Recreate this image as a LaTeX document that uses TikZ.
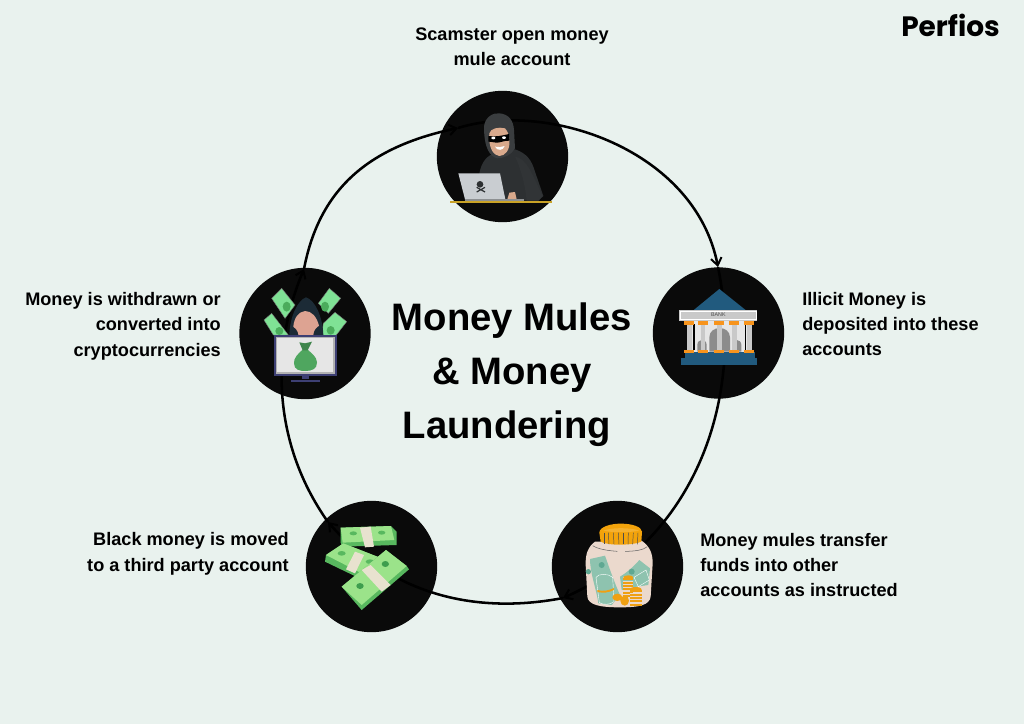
\documentclass[tikz,border=0pt]{standalone}
\usepackage{fontspec}
\setmainfont{Liberation Sans}
\newfontfamily\logofont{Poppins}
\usetikzlibrary{arrows.meta}
\definecolor{bgc}{HTML}{E9F2EE}
\definecolor{disc}{HTML}{0A0A0A}
\definecolor{hood}{HTML}{3A3D3F}
\definecolor{hoodie}{HTML}{2D3032}
\definecolor{skin}{HTML}{D9A98C}
\definecolor{lapgrey}{HTML}{C9CDD1}
\definecolor{gold}{HTML}{C9A227}
\definecolor{bankblue}{HTML}{215A7E}
\definecolor{bankorange}{HTML}{F7941D}
\definecolor{bankgrey}{HTML}{C9C9C9}
\definecolor{banklight}{HTML}{E6E6E6}
\definecolor{bankdoor}{HTML}{8C8C8C}
\definecolor{jarbody}{HTML}{EBD9CD}
\definecolor{jarlid}{HTML}{F3A30B}
\definecolor{jarteal}{HTML}{8EC3AF}
\definecolor{jardark}{HTML}{5FA892}
\definecolor{coin}{HTML}{EFA013}
\definecolor{billlight}{HTML}{9BE38A}
\definecolor{billmid}{HTML}{58B85F}
\definecolor{billdark}{HTML}{3E9E4E}
\definecolor{band}{HTML}{E8E2CF}
\definecolor{flatbill}{HTML}{7FE295}
\definecolor{hoodnavy}{HTML}{1C2B36}
\definecolor{facepink}{HTML}{DDA392}
\definecolor{monframe}{HTML}{3D3F73}
\definecolor{bag}{HTML}{4FA65F}
\tikzset{
  disk/.style={circle,fill=disc,draw=none,minimum size=98.5pt,inner sep=0pt},
  lbl/.style={font=\bfseries\fontsize{13.6}{19.1}\selectfont,inner sep=0pt},
  ttl/.style={font=\bfseries\fontsize{28.7}{40.3}\selectfont,align=center,inner sep=0pt},
  flow/.style={line width=1.9pt,black,-{Straight Barb[length=5.5pt,width=8pt,line width=1.5pt]}},
  crop/.style={x=.25pt,y=-.25pt},
  flat/.style={fill=flatbill,draw=black!55,line width=.3pt}
}
\begin{document}
\begin{tikzpicture}[x=.75pt,y=-.75pt]
\useasboundingbox (0,0) rectangle (1024,724);
\fill[bgc] (0,0) rectangle (1024,724);

\node[disk] (scam) at (502.5,156.5) {};
\node[disk] (bank) at (718.5,333) {};
\node[disk] (jar) at (617.5,566.5) {};
\node[disk] (cash) at (371.5,566.5) {};
\node[disk] (pc) at (305,333.5) {};

\coordinate (t1) at (458,128);
\coordinate (t2) at (718,267);
\coordinate (t3) at (563,598);
\coordinate (t4) at (328,522);
\coordinate (t5) at (304,269);

\draw[flow] (t1) .. controls +(90,-28) and +(-23,-117) .. (t2);
\draw[flow] (t2) .. controls +(27,133) and +(132,-58) .. (t3);
\draw[flow] (t3) .. controls +(-73,14) and +(72,82) .. (t4);
\draw[flow] (t4) .. controls +(-58,-82) and +(-32,76) .. (t5);
\draw[flow] (t5) .. controls +(16,-84) and +(-85,18) .. (t1);

% hacker
\begin{scope}[shift={(420,90)},crop]
\fill[hoodie] (178,250) .. controls (185,215) and (200,195) .. (235,185) -- (285,178) .. controls (320,190) and (335,210) .. (345,245) -- (370,318) -- (355,332) -- (200,332) -- cycle;
\fill[hood!85!black] (285,200) .. controls (320,205) and (335,250) .. (368,318) -- (355,332) -- (320,332) .. controls (315,280) and (300,230) .. (285,200) -- cycle;
\fill[hood] (192,110) .. controls (195,80) and (220,68) .. (238,70) .. controls (265,72) and (280,90) .. (282,120) -- (285,175) .. controls (275,195) and (250,205) .. (232,205) .. controls (210,200) and (192,175) .. (192,110) -- cycle;
\fill[skin] (208,130) .. controls (212,115) and (235,110) .. (255,115) .. controls (265,125) and (268,140) .. (268,155) .. controls (270,180) and (255,198) .. (238,198) .. controls (220,196) and (205,175) .. (208,130) -- cycle;
\fill[black] (205,138) .. controls (225,142) and (250,136) .. (267,132) -- (268,152) .. controls (250,152) and (240,158) .. (232,158) .. controls (225,158) and (212,155) .. (205,155) -- cycle;
\fill[white] (220,144) ellipse (6 and 4);
\fill[white] (252,143) ellipse (6 and 4);
\fill[white] (225,170) .. controls (235,172) and (245,172) .. (254,168) .. controls (250,182) and (232,184) .. (225,170) -- cycle;
\fill[skin] (262,328) -- (268,308) -- (285,306) -- (290,328) -- cycle;
\fill[lapgrey] (115,250) -- (240,250) -- (256,328) -- (135,328) -- cycle;
\fill[hoodie] (180,283) ellipse (10 and 10);
\draw[hoodie,line width=.9pt] (170,292) -- (195,306) (195,292) -- (170,306);
\fill[lapgrey!70!black] (135,327) rectangle (312,333);
\fill[gold] (90,333) rectangle (395,338);
\end{scope}

% bank
\begin{scope}[shift={(640,250)},crop]
\fill[bankblue] (238,117) -- (318,181) -- (160,181) -- cycle;
\fill[banklight] (140,212) rectangle (335,305);
\fill[bankdoor] (208,305) -- (208,262) .. controls (208,225) and (270,225) .. (270,262) -- (270,305) -- cycle;
\fill[bankdoor] (172,305) -- (172,285) .. controls (172,265) and (200,265) .. (200,285) -- (200,305) -- cycle;
\fill[bankdoor] (276,305) -- (276,285) .. controls (276,265) and (304,265) .. (304,285) -- (304,305) -- cycle;
\fill[black] (160,222) rectangle (164,300);
\fill[black] (315,222) rectangle (319,300);
\foreach \c in {148,189,238,283,328}{
  \fill[bankgrey] (\c-7,222) rectangle (\c+7,300);
}
\fill[bankblue] (135,305) rectangle (345,325);
\fill[bankblue] (122,325) rectangle (352,346);
\foreach \c in {148,189,238,283,328}{
  \fill[bankorange] (\c-15,214) rectangle (\c+15,224);
  \fill[bankorange] (\c-15,300) rectangle (\c+15,310);
}
\fill[bankgrey] (118,181) rectangle (352,212);
\draw[white,line width=.4pt] (122,185) rectangle (348,208);
\node[inner sep=0pt,text=black!70,font=\fontsize{4}{4}\selectfont] (banktxt) at (235,195) {BANK};
\end{scope}

% jar
\begin{scope}[shift={(540,490)},crop]
\fill[jarbody] (165,155) .. controls (145,170) and (136,190) .. (137,225) -- (142,320) .. controls (145,345) and (180,352) .. (240,352) .. controls (300,352) and (328,345) .. (332,320) -- (338,220) .. controls (338,190) and (330,170) .. (305,152) -- cycle;
\draw[black!60,line width=.4pt] (158,167) .. controls (175,178) and (205,182) .. (232,184);
\draw[black!60,line width=.4pt] (255,184) .. controls (285,184) and (310,180) .. (322,170);
\fill[jarteal] (150,207) -- (195,197) .. controls (205,225) and (220,270) .. (240,315) -- (215,345) -- (175,340) .. controls (170,300) and (150,250) .. (150,207) -- cycle;
\fill[jardark] (145,245) circle (8);
\fill[jardark] (185,225) circle (9);
\fill[jarteal] (240,260) .. controls (265,245) and (285,225) .. (298,210) -- (330,235) -- (325,285) -- (290,290) -- (245,300) -- cycle;
\fill[jardark] (275,245) circle (9);
\draw[white,fill=jarteal,line width=.3pt] (168,262) .. controls (175,250) and (205,250) .. (218,262) -- (222,335) .. controls (210,345) and (190,345) .. (178,338) -- cycle;
\fill[coin] (172,300) .. controls (190,305) and (205,302) .. (222,294) -- (222,300) .. controls (205,308) and (190,310) .. (172,306) -- cycle;
\draw[white,fill=jarteal,line width=.3pt] (282,262) -- (318,240) -- (328,270) -- (295,290) -- cycle;
\foreach \yy in {262,272,282,292,302,312}{
  \fill[coin] (250,\yy) rectangle (280,\yy+9);
  \draw[jarbody,line width=.2pt] (250,\yy) -- (280,\yy);
}
\fill[coin] (265,262) ellipse (15 and 6);
\fill[coin] (232,322) ellipse (15 and 11);
\fill[coin] (254,332) ellipse (13 and 15);
\foreach \yy in {298,308,318,328,338}{
  \fill[coin] (270,\yy) rectangle (305,\yy+9);
  \draw[jarbody,line width=.2pt] (270,\yy) -- (305,\yy);
}
\fill[coin] (287,298) ellipse (18 and 7);
\fill[jarlid] (178,128) .. controls (178,110) and (215,100) .. (245,101) .. controls (275,101) and (305,110) .. (306,125) -- (304,155) .. controls (280,166) and (205,168) .. (182,155) -- cycle;
\fill[jarlid!85!white] (190,122) .. controls (215,112) and (270,112) .. (298,122) .. controls (270,128) and (215,128) .. (190,122) -- cycle;
\foreach \xa/\xb in {192/192,205/207,220/222,235/237,250/250,265/264,280/278,294/292}{
  \draw[black!70,line width=.35pt] (\xa,128) -- (\xb,163);
}
\end{scope}

% cash
\begin{scope}[shift={(300,490)},crop]
\fill[billmid] (122,113) -- (122,158) -- (128,170) -- (290,165) -- (290,125) -- (273,108) -- cycle;
\fill[billlight] (122,113) -- (273,108) -- (283,150) -- (128,158) -- cycle;
\fill[billmid] (160,130) ellipse (11 and 6);
\fill[billmid] (245,128) ellipse (11 and 6);
\fill[band] (180,113) -- (212,110) -- (222,170) -- (195,172) -- cycle;
\fill[billmid] (78,195) -- (75,215) -- (185,268) -- (245,225) -- (245,205) -- (130,160) -- cycle;
\fill[billlight] (78,195) -- (130,160) -- (245,205) -- (185,250) -- cycle;
\fill[billmid] (125,190) ellipse (12 and 7);
\fill[billmid] (210,215) ellipse (13 and 7);
\fill[band] (165,185) -- (192,195) -- (165,250) -- (138,238) -- cycle;
\fill[billmid] (125,290) -- (185,360) -- (327,238) -- (320,228) -- (258,180) -- cycle;
\fill[billlight] (125,290) -- (258,180) -- (320,228) -- (185,345) -- cycle;
\fill[billdark] (180,288) ellipse (11 and 9);
\fill[billdark] (256,222) ellipse (11 and 9);
\fill[band] (185,240) -- (212,225) -- (272,285) -- (245,305) -- cycle;
\end{scope}

% pc
\begin{scope}[shift={(270,255)},crop]
\fill[flat] (5,130) -- (35,100) -- (75,150) -- (45,190) -- cycle;
\fill[billdark!80!flatbill] (50,155) ellipse (12 and 15);
\fill[flat] (145,145) -- (178,100) -- (212,130) -- (175,175) -- cycle;
\fill[billdark!80!flatbill] (165,155) ellipse (12 and 15);
\fill[flat] (-18,195) -- (5,175) -- (55,240) -- (10,240) -- cycle;
\fill[billdark!80!flatbill] (28,228) ellipse (12 and 12);
\fill[flat] (160,205) -- (195,172) -- (230,200) -- (195,245) -- (155,240) -- cycle;
\fill[billdark!80!flatbill] (182,226) ellipse (12 and 13);
\fill[hoodnavy] (108,127) .. controls (85,135) and (60,180) .. (58,240) -- (160,240) .. controls (158,185) and (135,135) .. (108,127) -- cycle;
\fill[facepink] (105,168) .. controls (85,170) and (72,190) .. (70,215) .. controls (85,225) and (85,240) .. (85,240) -- (130,240) .. controls (130,225) and (140,218) .. (147,212) .. controls (140,185) and (125,168) .. (105,168) -- cycle;
\fill[monframe] (12,240) rectangle (200,363);
\fill[black!30] (18,246) rectangle (194,356);
\fill[banklight] (22,250) rectangle (190,352);
\fill[monframe] (95,363) rectangle (118,373);
\fill[monframe] (63,375) rectangle (150,380);
\fill[bag] (98,284) .. controls (85,295) and (70,310) .. (72,325) .. controls (72,345) and (90,348) .. (106,348) .. controls (125,348) and (142,342) .. (141,322) .. controls (140,305) and (125,295) .. (113,284) -- cycle;
\fill[bag!80!black] (88,262) -- (105,265) -- (126,260) -- (113,286) -- (98,286) -- cycle;
\end{scope}

\node[lbl,align=center] (ltop) at (512,47) {Scamster open money\\mule account};
\node[lbl,align=left,anchor=west] (lbank) at (802,324) {Illicit Money is\\deposited into these\\accounts};
\node[lbl,align=left,anchor=west] (ljar) at (700,565) {Money mules transfer\\funds into other\\accounts as instructed};
\node[lbl,align=right,anchor=east] (lcash) at (289,554) {Black money is moved\\to a third party account};
\node[lbl,align=right,anchor=east] (lpc) at (221,326) {Money is withdrawn or\\converted into\\cryptocurrencies};
\node[ttl] (title) at (512,374.5) {Money Mules\\\& Money\\Laundering\rule{7.5pt}{0pt}};
\node[inner sep=0pt,font=\logofont\bfseries\fontsize{21}{21}\selectfont] (logo) at (950.5,25) {Perfios};
\end{tikzpicture}
\end{document}
